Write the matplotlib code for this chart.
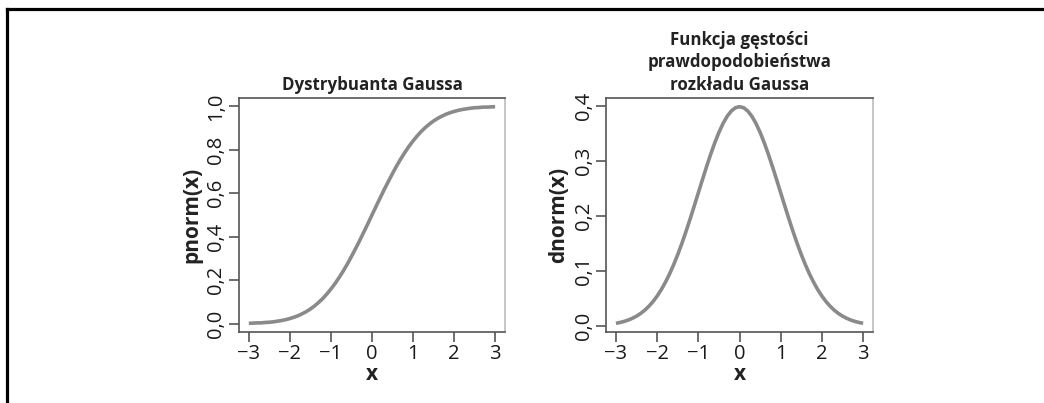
import numpy as np
import matplotlib.pyplot as plt
from matplotlib.lines import Line2D
from matplotlib.ticker import FuncFormatter

plt.rcParams['font.family'] = ['Open Sans', 'DejaVu Sans']

# sample points along x (step 0.1) and the values
x = np.linspace(-3, 3, 61)
pnorm_vals = [0.001, 0.002, 0.003, 0.003, 0.005, 0.006, 0.008, 0.011, 0.014, 0.018,
              0.023, 0.029, 0.036, 0.045, 0.055, 0.067, 0.081, 0.097, 0.115, 0.136,
              0.159, 0.184, 0.212, 0.242, 0.274, 0.309, 0.345, 0.382, 0.421, 0.460,
              0.500,
              0.540, 0.579, 0.618, 0.655, 0.691, 0.726, 0.758, 0.788, 0.816, 0.841,
              0.864, 0.885, 0.903, 0.919, 0.933, 0.945, 0.955, 0.964, 0.971, 0.977,
              0.982, 0.986, 0.989, 0.992, 0.994, 0.995, 0.997, 0.997, 0.998, 0.999]
dnorm_vals = [0.0044, 0.0060, 0.0079, 0.0104, 0.0136, 0.0175, 0.0224, 0.0283, 0.0355, 0.0440,
              0.0540, 0.0656, 0.0790, 0.0940, 0.1109, 0.1295, 0.1497, 0.1714, 0.1942, 0.2179,
              0.2420, 0.2661, 0.2897, 0.3123, 0.3332, 0.3521, 0.3683, 0.3814, 0.3910, 0.3970,
              0.3989,
              0.3970, 0.3910, 0.3814, 0.3683, 0.3521, 0.3332, 0.3123, 0.2897, 0.2661, 0.2420,
              0.2179, 0.1942, 0.1714, 0.1497, 0.1295, 0.1109, 0.0940, 0.0790, 0.0656, 0.0540,
              0.0440, 0.0355, 0.0283, 0.0224, 0.0175, 0.0136, 0.0104, 0.0079, 0.0060, 0.0044]

x_ticks = [-3, -2, -1, 0, 1, 2, 3]
p_ticks = [0.0, 0.2, 0.4, 0.6, 0.8, 1.0]
d_ticks = [0.0, 0.1, 0.2, 0.3, 0.4]

titles = ['Dystrybuanta Gaussa',
          'Funkcja gęstości\nprawdopodobieństwa\nrozkładu Gaussa']
ylabels = ['pnorm(x)', 'dnorm(x)']

fig = plt.figure(figsize=(10.44, 4.03), dpi=100)
ax1 = fig.add_axes([0.2289, 0.1762, 0.2548, 0.5806])
ax2 = fig.add_axes([0.5805, 0.1762, 0.2557, 0.5806])

comma = FuncFormatter(lambda v, p: f'{v:.1f}'.replace('.', ','))
minus = FuncFormatter(lambda v, p: f'{int(v)}'.replace('-', '\u2212'))


def r_lim(vals):
    # R style 4% padding
    lo, hi = min(vals), max(vals)
    pad = 0.04 * (hi - lo)
    return lo - pad, hi + pad


for ax, y, yt, title, yl in zip([ax1, ax2], [pnorm_vals, dnorm_vals], [p_ticks, d_ticks], titles, ylabels):
    ax.plot(x, y, color='#8a8a8a', lw=2.6, solid_capstyle='butt')
    ax.set_xlim(*r_lim(x))
    ax.set_ylim(*r_lim(y))
    ax.set_xticks(x_ticks)
    ax.set_yticks(yt)
    ax.xaxis.set_major_formatter(minus)
    ax.yaxis.set_major_formatter(comma)
    ax.tick_params(direction='out', length=7, width=1.2, color='#555555',
                   labelsize=14.5, labelcolor='#1a1a1a', pad=2)
    for lbl in ax.get_yticklabels():
        lbl.set_rotation(90)
        lbl.set_va('center')
    for s in ax.spines.values():
        s.set_color('#555555')
        s.set_linewidth(1.2)
    ax.spines['right'].set_color('#bbbbbb')
    ax.set_title(title, fontsize=12.2, fontweight='bold', color='#222222', pad=6, linespacing=1.3)
    ax.set_xlabel('x', fontsize=15, fontweight='bold', color='#222222', labelpad=0)
    ax.set_ylabel(yl, fontsize=15, fontweight='bold', color='#222222', labelpad=3)

# page frame
fig.add_artist(Line2D([6.5 / 1044, 1.0], [1 - 9 / 403, 1 - 9 / 403], color='black', lw=2.3,
                      transform=fig.transFigure, solid_capstyle='projecting'))
fig.add_artist(Line2D([6.5 / 1044, 6.5 / 1044], [0.0, 1 - 9 / 403], color='black', lw=2.3,
                      transform=fig.transFigure, solid_capstyle='projecting'))

fig.savefig('out.png', dpi=100)
